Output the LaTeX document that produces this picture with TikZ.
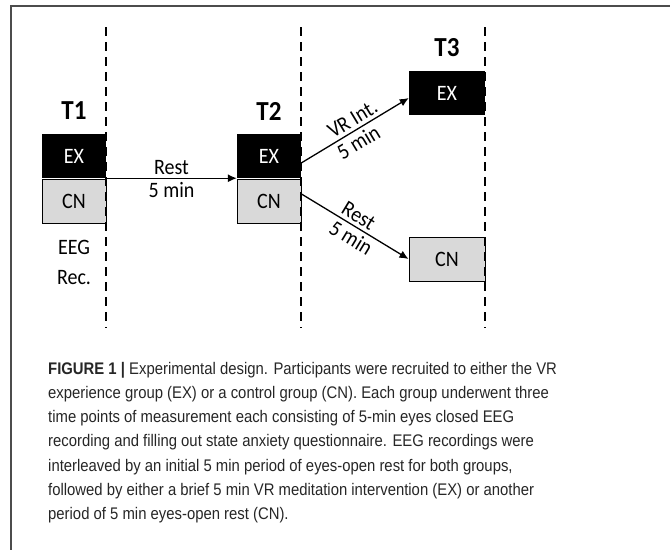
\documentclass[tikz,border=0pt]{standalone}
\usepackage{fontspec}
\setmainfont{Carlito}[FakeStretch=0.91]
\newfontfamily\capfont[FakeStretch=0.885]{Liberation Sans}
\usetikzlibrary{arrows.meta}

\begin{document}
\begin{tikzpicture}[x=1pt,y=-1pt,
    node distance=45pt,
    >={Latex[length=9pt,width=8pt]},
    font=\fontsize{22}{26}\selectfont,
    exbox/.style={fill=black,text=white,minimum width=64pt,minimum height=44pt,inner sep=0pt},
    cnbox/.style={fill=black!15,draw=black,line width=1pt,minimum width=64pt,minimum height=44pt,inner sep=0pt},
    tlabel/.style={font=\fontsize{27.5}{30}\selectfont\bfseries},
    divider/.style={line width=1.5pt,dash pattern=on 9pt off 6pt}]
    \useasboundingbox (0,0) rectangle (670,550);
    %% frame
    \draw[black!70,line width=1.2pt] (670,6) -- (11,6) -- (11,550);

    %% T1
    \node[exbox] (ex1) at (74,156) {EX};
    \node[cnbox,below of=ex1] (cn1) {CN};
    \node[tlabel,above of=ex1] (t1) {T1};
    \node[below of=cn1,yshift=-16pt,align=center,font=\fontsize{22}{30}\selectfont] (eeg) {EEG\\Rec.};
    %% T2
    \node[exbox] (ex2) at (269,156) {EX};
    \node[cnbox,below of=ex2] (cn2) {CN};
    \node[tlabel,above of=ex2] (t2) {T2};
    %% T3
    \node[exbox,minimum width=76pt] (ex3) at (447,93) {EX};
    \node[cnbox,minimum width=76pt] (cn3) at (447,259) {CN};
    \node[tlabel,above of=ex3] (t3) {T3};

    %% time points
    \foreach \x in {106,301,485}
      \draw[divider] (\x,27) -- (\x,328);

    %% rest / intervention
    \draw[->,line width=1.3pt] (ex1.south east) -- node[above] {Rest} node[below] {5 min} (ex2.south west);
    \draw[->,line width=1.3pt] ([yshift=-7pt]ex2.east) -- node[sloped,above,pos=0.53] {VR Int.} node[sloped,below,pos=0.475] {5 min} ([yshift=-5pt]ex3.west);
    \draw[->,line width=1.3pt] ([yshift=7pt]cn2.east) -- node[sloped,above,pos=0.48] {Rest} node[sloped,below,pos=0.52] {5 min} (cn3.west);

    %% caption
    \node[anchor=north west,align=left,inner sep=0pt,text=black!85,
      font=\capfont\fontsize{16.8}{24.2}\selectfont] (cap) at (48,362)
      {\textbf{FIGURE 1 |} Experimental design. Participants were recruited to either the VR\\
       experience group (EX) or a control group (CN). Each group underwent three\\
       time points of measurement each consisting of 5-min eyes closed EEG\\
       recording and filling out state anxiety questionnaire. EEG recordings were\\
       interleaved by an initial 5 min period of eyes-open rest for both groups,\\
       followed by either a brief 5 min VR meditation intervention (EX) or another\\
       period of 5 min eyes-open rest (CN).};
\end{tikzpicture}
\end{document}
